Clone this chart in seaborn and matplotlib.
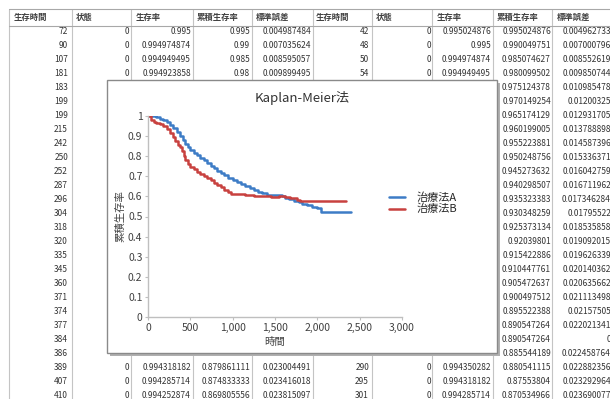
#### Librairies
import matplotlib
matplotlib.use("Agg")
import matplotlib.pyplot as plt
from matplotlib.patches import Rectangle
from matplotlib.ticker import FuncFormatter
import pandas as pd
import seaborn as sns

#### Données des courbes
temps_A = [0, 90, 140, 180, 220, 260, 300, 340, 380, 410, 440, 470, 500, 540, 580,
           620, 660, 700, 740, 780, 820, 860, 900, 950, 1000, 1050, 1100, 1150, 1200,
           1250, 1300, 1350, 1400, 1500, 1580, 1620, 1660, 1720, 1780, 1820, 1880,
           1940, 2000, 2040, 2400]
surv_A = [1.0, 0.993, 0.986, 0.978, 0.968, 0.955, 0.940, 0.922, 0.900, 0.882, 0.862,
          0.845, 0.830, 0.816, 0.804, 0.792, 0.780, 0.765, 0.752, 0.740, 0.728, 0.716,
          0.705, 0.693, 0.680, 0.670, 0.660, 0.650, 0.640, 0.632, 0.622, 0.615, 0.608,
          0.605, 0.600, 0.590, 0.585, 0.578, 0.570, 0.560, 0.555, 0.548, 0.540, 0.522,
          0.520]
temps_B = [0, 40, 70, 100, 140, 180, 220, 260, 290, 320, 350, 380, 400, 420, 440, 470,
           500, 540, 580, 620, 660, 700, 740, 780, 820, 860, 900, 940, 980, 1050, 1150,
           1250, 1350, 1450, 1550, 1620, 1680, 1760, 1800, 1900, 2000, 2100, 2200, 2340]
surv_B = [1.0, 0.978, 0.970, 0.964, 0.958, 0.950, 0.935, 0.915, 0.895, 0.875, 0.858,
          0.845, 0.825, 0.800, 0.782, 0.762, 0.748, 0.735, 0.722, 0.712, 0.700, 0.690,
          0.680, 0.668, 0.658, 0.645, 0.632, 0.620, 0.612, 0.610, 0.608, 0.600, 0.602,
          0.598, 0.600, 0.595, 0.590, 0.580, 0.575, 0.575, 0.578, 0.575, 0.575, 0.575]
groupes = ["治療法A", "治療法B"]
couleurs = ["#3d7cc6", "#c8413f"]

#### Données du tableau en arrière-plan
entetes = ["生存時間", "状態", "生存率", "累積生存率", "標準誤差"]
g_temps = ["72", "90", "107", "181", "183", "199", "199", "215", "242", "250", "252",
           "287", "296", "304", "318", "320", "335", "345", "360", "371", "374", "377",
           "384", "386", "389", "407", "410"]
# lignes où les autres colonnes ne sont pas cachées par le graphique
lignes_visibles = [0, 1, 2, 3, 23, 24, 25, 26]
g_etat = ["0", "0", "0", "0", "0", "0", "0", "0"]
g_taux = ["0.995", "0.994974874", "0.994949495", "0.994923858",
          "0.994350282", "0.994318182", "0.994285714", "0.994252874"]
g_cumul = ["0.995", "0.99", "0.985", "0.98",
           "0.884888889", "0.879861111", "0.874833333", "0.869805556"]
g_erreur = ["0.004987484", "0.007035624", "0.008595057", "0.009899495",
            "0.022379583", "0.023004491", "0.023416018", "0.023815097"]
d_temps = ["42", "48", "50", "54", "285", "290", "295", "301"]
d_etat = ["0", "0", "0", "0", "0", "0", "0", "0"]
d_taux = ["0.995024876", "0.995", "0.994974874", "0.994949495",
          "0.994382022", "0.994350282", "0.994318182", "0.994285714"]
d_cumul = ["0.995024876", "0.990049751", "0.985074627", "0.980099502", "0.975124378",
           "0.970149254", "0.965174129", "0.960199005", "0.955223881", "0.950248756",
           "0.945273632", "0.940298507", "0.935323383", "0.930348259", "0.925373134",
           "0.92039801", "0.915422886", "0.910447761", "0.905472637", "0.900497512",
           "0.895522388", "0.890547264", "0.890547264", "0.885544189", "0.880541115",
           "0.87553804", "0.870534966"]
d_erreur = ["0.004962733", "0.007000796", "0.008552619", "0.009850744", "0.010985478",
            "0.01200325", "0.012931705", "0.013788898", "0.014587396", "0.015336371",
            "0.016042759", "0.016711962", "0.017346284", "0.01795522", "0.018535858",
            "0.019092015", "0.019626339", "0.020140362", "0.020635662", "0.021113498",
            "0.02157505", "0.022021341", "0", "0.022458764", "0.022882356",
            "0.023292964", "0.023690077"]

#### Mise en page (pixels)
W, H = 610, 399
sns.set_theme(style="white")
plt.rcParams['font.family'] = ['Noto Sans CJK JP', 'DejaVu Sans']

fig = plt.figure(figsize=(W / 100, H / 100), dpi=100)
fond = fig.add_axes([0, 0, 1, 1])
fond.set_xlim(0, W)
fond.set_ylim(H, 0)
fond.axis('off')

# grille du tableau
separateurs = [9, 72, 131, 193, 252, 313, 372, 432, 493, 552]
x_entete = [14, 76, 136, 197, 256, 316, 376, 437, 497, 557]
x_valeur = [68, 129, 191, 250, 311, 369, 431, 491, 551, 611]
for xs in separateurs:
    fond.plot([xs, xs], [9, H], color="#c4c4c4", lw=0.8, zorder=1)
fond.plot([9, W], [9, 9], color="#a8a8a8", lw=0.8, zorder=1)
fond.plot([9, W], [26, 26], color="#a8a8a8", lw=0.8, zorder=1)

for i, nom in enumerate(entetes + entetes):
    fond.text(x_entete[i], 17.5, nom, fontsize=6, fontweight='bold', color="#404040",
              ha='left', va='center', zorder=2)

def y_ligne(i):
    return 32 + 14.0 * i

txt = dict(fontsize=6, color="#333333", ha='right', va='center', zorder=2)
for i, v in enumerate(g_temps):
    fond.text(x_valeur[0], y_ligne(i), v, **txt)
for k, i in enumerate(lignes_visibles):
    for c, col in enumerate([g_etat, g_taux, g_cumul, g_erreur, d_temps, d_etat, d_taux]):
        fond.text(x_valeur[c + 1], y_ligne(i), col[k], **txt)
for i in range(len(d_cumul)):
    fond.text(x_valeur[8], y_ligne(i), d_cumul[i], **txt)
    fond.text(x_valeur[9], y_ligne(i), d_erreur[i], clip_on=True, **txt)

# cadre du graphique avec ombre
fond.add_patch(Rectangle((110, 83), 390, 273, facecolor="#b0b0b0", edgecolor='none', zorder=5))
fond.add_patch(Rectangle((107, 80), 390, 273, facecolor="white", edgecolor="#8a8a8a",
                         lw=1.0, zorder=6))
fond.text(302, 98, "Kaplan-Meier法", fontsize=9.5, color="#333333",
          ha='center', va='center', zorder=7)

#### Courbes de survie
df = pd.concat([
    pd.DataFrame({"時間": temps_A, "累積生存率": surv_A, "群": groupes[0]}),
    pd.DataFrame({"時間": temps_B, "累積生存率": surv_B, "群": groupes[1]}),
])

ax = fig.add_axes([148 / W, 1 - 317 / H, 254 / W, 201 / H], zorder=1)
ax.patch.set_alpha(0)
sns.lineplot(data=df, x="時間", y="累積生存率", hue="群", palette=couleurs,
             estimator=None, sort=False, drawstyle='steps-post', lw=1.8, ax=ax)

ax.set_xlim(0, 3000)
ax.set_ylim(0, 1)
ax.set_xticks(range(0, 3001, 500))
ax.set_yticks([i / 10 for i in range(11)])
ax.xaxis.set_major_formatter(FuncFormatter(lambda v, p: f"{int(v):,}"))
ax.yaxis.set_major_formatter(FuncFormatter(lambda v, p: f"{v:g}"))
sns.despine(ax=ax)
for s in ["left", "bottom"]:
    ax.spines[s].set_color("#bfbfbf")
    ax.spines[s].set_linewidth(1)
ax.tick_params(axis='both', length=2.5, width=0.8, color="#bfbfbf", pad=1.5,
               labelsize=7.5, labelcolor="#404040", left=True, bottom=True)
ax.set_xlabel("時間", fontsize=7.5, color="#404040")
ax.set_ylabel("累積生存率", fontsize=7.5, color="#404040")
ax.xaxis.set_label_coords(0.5, -0.1)
ax.yaxis.set_label_coords(-0.09, 0.5)

handles, labels = ax.get_legend_handles_labels()
ax.legend(handles, labels, loc='upper left', bbox_to_anchor=(389 / W, 1 - 192 / H),
          bbox_transform=fig.transFigure, frameon=False, fontsize=8,
          borderpad=0, borderaxespad=0, labelspacing=0.12, handlelength=1.4,
          handletextpad=1.1)

fig.savefig("out.png", dpi=100)
